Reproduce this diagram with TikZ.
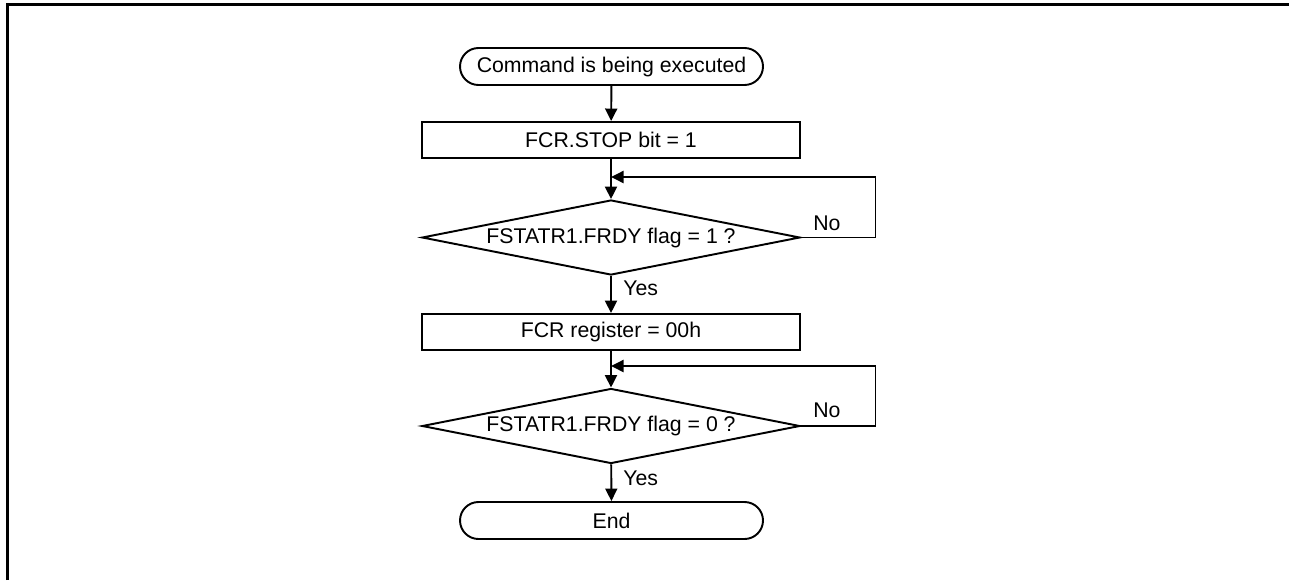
\documentclass[tikz,border=0pt]{standalone}
\usepackage{fontspec}
\setmainfont{Liberation Sans}
\usepackage{tikz}
\usetikzlibrary{arrows.meta}
\usetikzlibrary{shapes.geometric, shapes.misc}
\usetikzlibrary{positioning}

\tikzset{
    flowline/.style={line width=1.1pt},
    arr/.style={flowline, -{Triangle[length=0.25cm, width=0.24cm]}},
    termbox/.style={flowline, draw, rounded rectangle, minimum width=6.06cm, minimum height=0.74cm, inner sep=0pt},
    procbox/.style={flowline, draw, rectangle, minimum width=7.56cm, minimum height=0.72cm, inner sep=0pt},
    decbox/.style={flowline, draw, diamond, aspect=5, minimum width=7.56cm, minimum height=1.5cm, inner sep=0pt},
    lbl/.style={inner sep=0pt, anchor=west}
}

\begin{document}
\begin{tikzpicture}[font=\fontsize{12.1}{14}\selectfont]
        \fill[white] (0,0) rectangle (25.78,-11.6);
        \useasboundingbox (0,0) rectangle (25.78,-11.6);
        \draw[line width=1.6pt] (0.15,-11.6) -- (0.15,-0.094) -- (25.78,-0.094);

        \node[termbox] (start) at (12.23,-1.33) {Command is being executed};
        \node[procbox] (stop) at (12.22,-2.8) {FCR.STOP bit = 1};
        \node[decbox] (rdy1) at (12.22,-4.75) {FSTATR1.FRDY flag = 1 ?};
        \node[procbox] (clr) at (12.22,-6.64) {FCR register = 00h};
        \node[decbox] (rdy0) at (12.22,-8.52) {FSTATR1.FRDY flag = 0 ?};
        \node[termbox] (end) at (12.23,-10.41) {End};

        \coordinate (join1) at (12.22,-3.54);
        \coordinate (join2) at (12.22,-7.32);
        \coordinate (loop1) at (17.51,-4.75);
        \coordinate (loop2) at (17.51,-8.52);

        \draw[arr] (start) -- (stop);
        \draw[arr] (stop) -- (rdy1);
        \draw[arr] (rdy1.east) -- (loop1) |- (join1);
        \node[lbl] (no1) at (16.26,-4.46) {No};
        \draw[arr] (rdy1) -- (clr);
        \node[lbl] (yes1) at (12.46,-5.76) {Yes};

        \draw[arr] (clr) -- (rdy0);
        \draw[arr] (rdy0.east) -- (loop2) |- (join2);
        \node[lbl] (no2) at (16.26,-8.2) {No};
        \draw[arr] (rdy0) -- (end);
        \node[lbl] (yes2) at (12.46,-9.56) {Yes};
    \end{tikzpicture}
\end{document}
